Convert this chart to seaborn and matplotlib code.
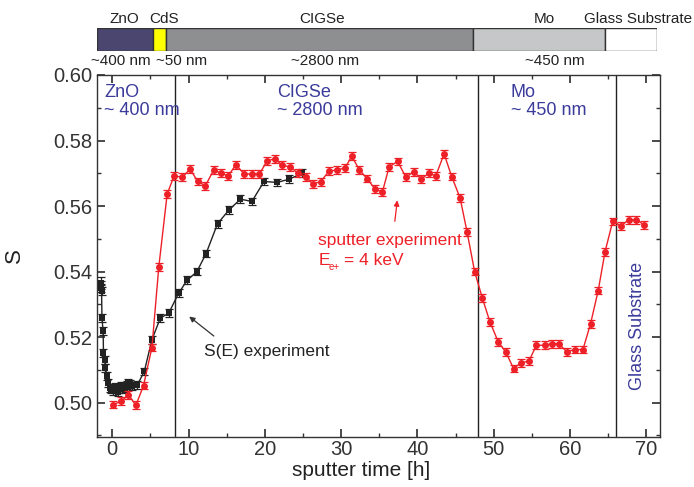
import matplotlib
matplotlib.use("Agg")
import matplotlib.pyplot as plt
from matplotlib.ticker import MultipleLocator
import seaborn as sns
import numpy as np
import pandas as pd

# sputter experiment (red), E_e+ = 4 keV
t_sputter = [0.1, 1.2, 2.1, 3.1, 4.1, 5.2, 6.1, 7.2, 8.1, 9.2, 10.2, 11.2, 12.2, 13.3,
             14.3, 15.2, 16.2, 17.3, 18.3, 19.3, 20.3, 21.3, 22.3, 23.3, 24.4, 25.4,
             26.3, 27.3, 28.4, 29.4, 30.5, 31.4, 32.4, 33.4, 34.4, 35.4, 36.3, 37.4,
             38.5, 39.5, 40.5, 41.5, 42.4, 43.5, 44.5, 45.6, 46.5, 47.5, 48.5, 49.5,
             50.6, 51.6, 52.6, 53.6, 54.6, 55.6, 56.7, 57.7, 58.5, 59.6, 60.6, 61.7,
             62.7, 63.7, 64.6, 65.6, 66.7, 67.7, 68.7, 69.7]
s_sputter = [0.4994, 0.5004, 0.5024, 0.4992, 0.5052, 0.5168, 0.5414, 0.5637, 0.5692,
             0.5688, 0.5713, 0.5675, 0.5662, 0.5710, 0.5700, 0.5692, 0.5726, 0.5698,
             0.5698, 0.5698, 0.5738, 0.5744, 0.5725, 0.5719, 0.5700, 0.5688, 0.5668,
             0.5674, 0.5706, 0.5710, 0.5716, 0.5752, 0.5710, 0.5684, 0.5653, 0.5642,
             0.5720, 0.5736, 0.5688, 0.5705, 0.5683, 0.5700, 0.5692, 0.5759, 0.5690,
             0.5624, 0.5522, 0.5400, 0.5320, 0.5247, 0.5185, 0.5154, 0.5104, 0.5122,
             0.5126, 0.5175, 0.5175, 0.5180, 0.5180, 0.5155, 0.5162, 0.5162, 0.5241,
             0.5342, 0.5461, 0.5553, 0.5540, 0.5558, 0.5558, 0.5543]

# S(E) experiment (black)
t_se = [-1.5, -1.5, -1.45, -1.4, -1.35, -1.2, -1.15, -1.0, -0.9, -0.7, -0.5, -0.3,
        -0.1, 0.1, 0.3, 0.5, 0.7, 0.9, 1.1, 1.3, 1.5, 1.7, 1.9, 2.1, 2.3, 2.6, 3.3,
        4.2, 5.2, 6.3, 7.4, 8.7, 9.8, 11.1, 12.3, 13.8, 15.3, 16.8, 18.3, 19.9, 21.6,
        23.2, 24.9]
s_se = [0.5370, 0.5360, 0.5350, 0.5340, 0.5258, 0.5218, 0.5152, 0.5131, 0.5106,
        0.5080, 0.5060, 0.5045, 0.5040, 0.5035, 0.5048, 0.5040, 0.5032, 0.5042,
        0.5050, 0.5040, 0.5052, 0.5045, 0.5055, 0.5060, 0.5058, 0.5050, 0.5055,
        0.5095, 0.5192, 0.5258, 0.5273, 0.5334, 0.5373, 0.5400, 0.5455, 0.5546,
        0.5588, 0.5621, 0.5614, 0.5675, 0.5672, 0.5682, 0.5700]
err_s = 0.0012

# layer interfaces [h]
interfaces = [8.2, 48.0, 66.0]

# layer stack schematic (widths as drawn)
layers = ["ZnO", "CdS", "CIGSe", "Mo", "Glass Substrate"]
layer_widths = [56, 13, 307, 132, 52]
layer_colors = ["#4b4670", "#ffff00", "#8e8f91", "#c6c7c8", "#ffffff"]
thickness = ["~400 nm", "~50 nm", "~2800 nm", "~450 nm"]

red = "#ee2027"
blue = "#3b3b9b"

sns.set_theme(style="ticks")
plt.rcParams["font.family"] = ["Liberation Sans", "DejaVu Sans"]

df_sp = pd.DataFrame({"t": t_sputter, "S": s_sputter})
df_se = pd.DataFrame({"t": t_se, "S": s_se})

fig = plt.figure(figsize=(6.94, 4.87), dpi=100)
ax = fig.add_axes([97 / 694, 50 / 487, 563 / 694, 362 / 487])

ax.errorbar(df_se["t"], df_se["S"], yerr=err_s, fmt="none", ecolor="#222222",
            elinewidth=0.9, capsize=3, capthick=0.9, zorder=2)
sns.lineplot(data=df_se, x="t", y="S", ax=ax, color="#222222", marker="s",
             markersize=5, markeredgewidth=0, linewidth=1, sort=False, zorder=3)
ax.errorbar(df_sp["t"], df_sp["S"], yerr=err_s, fmt="none", ecolor=red,
            elinewidth=0.9, capsize=3, capthick=0.9, zorder=4)
sns.lineplot(data=df_sp, x="t", y="S", ax=ax, color=red, marker="o",
             markersize=5, markeredgewidth=0, linewidth=1, sort=False, zorder=5)

for xi in interfaces:
    ax.axvline(xi, color="#222222", lw=1, zorder=1)

ax.set_xlim(-2, 71.8)
ax.set_ylim(0.4895, 0.60)
ax.xaxis.set_major_locator(MultipleLocator(10))
ax.xaxis.set_minor_locator(MultipleLocator(5))
ax.yaxis.set_major_locator(MultipleLocator(0.02))
ax.yaxis.set_minor_locator(MultipleLocator(0.01))
ax.yaxis.set_major_formatter(matplotlib.ticker.FormatStrFormatter("%.2f"))
ax.tick_params(which="both", direction="in", top=True, right=True,
               labelsize=14.5, colors="#333333", labelcolor="#333333")
ax.tick_params(which="major", length=6)
ax.tick_params(which="minor", length=3)
ax.tick_params(axis="x", pad=2)
for sp in ax.spines.values():
    sp.set_color("#333333")
    sp.set_linewidth(1)
ax.set_xlabel("sputter time [h]", fontsize=15, color="#222222")
ax.set_ylabel("S", fontsize=16, color="#222222")
ax.xaxis.set_label_coords(0.47, -0.066)
ax.yaxis.set_label_coords(-0.128, 0.5)

ax.text(0.013, 0.975, "ZnO\n~ 400 nm", transform=ax.transAxes, color=blue,
        fontsize=13, va="top", ha="left", linespacing=1.05)
ax.text(0.32, 0.975, "CIGSe\n~ 2800 nm", transform=ax.transAxes, color=blue,
        fontsize=13, va="top", ha="left", linespacing=1.05)
ax.text(0.735, 0.975, "Mo\n~ 450 nm", transform=ax.transAxes, color=blue,
        fontsize=13, va="top", ha="left", linespacing=1.05)
ax.text(68.8, 0.5235, "Glass Substrate", color=blue, fontsize=13,
        rotation=90, ha="center", va="center")

ax.text(27, 0.5495, "sputter experiment", color=red, fontsize=12.5, ha="left", va="center")
ax.text(27, 0.5433, "E", color=red, fontsize=12.5, ha="left", va="center")
ax.text(28.4, 0.5414, "e+", color=red, fontsize=7, ha="left", va="center")
ax.text(30.4, 0.5433, "= 4 keV", color=red, fontsize=12.5, ha="left", va="center")
ax.annotate("", xy=(37.4, 0.5626), xytext=(37.0, 0.5545),
            arrowprops=dict(arrowstyle="-|>", color=red, lw=0.9, mutation_scale=8))

ax.text(12, 0.5155, "S(E) experiment", color="#222222", fontsize=12.5, ha="left", va="center")
ax.annotate("", xy=(9.8, 0.5268), xytext=(13.6, 0.5198),
            arrowprops=dict(arrowstyle="-|>", color="#333333", lw=0.9, mutation_scale=8))

# layer stack bar on top
bax = fig.add_axes([97 / 694, 1 - 51 / 487, 560 / 694, 23 / 487])
left = np.concatenate([[0], np.cumsum(layer_widths)[:-1]])
bax.barh([0] * len(layers), layer_widths, left=left, color=layer_colors,
         edgecolor="#333333", linewidth=1, height=1)
bax.set_xlim(0, sum(layer_widths))
bax.set_ylim(-0.5, 0.5)
bax.axis("off")
top_pos = [27, 67, 225, 447, 541]
for name, xp in zip(layers, top_pos):
    bax.text(xp, 0.6, name, ha="center", va="bottom", fontsize=11, color="#222222")
bot_pos = [24, 85, 228, 458]
for name, xp in zip(thickness, bot_pos):
    bax.text(xp, -0.65, name, ha="center", va="top", fontsize=11, color="#222222")

fig.savefig("out.png", dpi=100)
